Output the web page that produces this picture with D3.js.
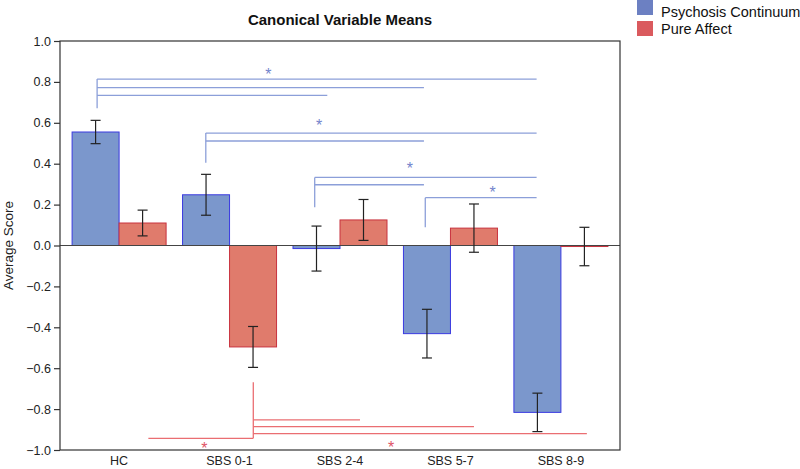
<!DOCTYPE html>
<html>
<head>
<meta charset="utf-8">
<script src="https://cdn.jsdelivr.net/npm/d3@7"></script>
<style>
  body { margin: 0; background: #fff; }
  text { font-family: "Liberation Sans", Arial, sans-serif; }
</style>
</head>
<body>
<div id="chart"></div>
<script>
// data
var categories = ["HC", "SBS 0-1", "SBS 2-4", "SBS 5-7", "SBS 8-9"];
var seriesNames = ["Psychosis Continuum", "Pure Affect"];
var psychosisMeans = [0.555, 0.248, -0.015, -0.431, -0.816];
var psychosisErrors = [0.057, 0.10, 0.11, 0.119, 0.094];
var affectMeans = [0.11, -0.496, 0.125, 0.085, -0.005];
var affectErrors = [0.063, 0.10, 0.10, 0.118, 0.094];
var yTicks = [-1.0, -0.8, -0.6, -0.4, -0.2, 0.0, 0.2, 0.4, 0.6, 0.8, 1.0];

// significance brackets, x in category-index units, y in score units
var psychosisBrackets = [
  { from: -0.199, base: 0.671, levels: [[0.814, 3.78], [0.772, 2.76], [0.734, 1.885]], star: [1.351, 0.855] },
  { from: 0.785, base: 0.405, levels: [[0.55, 3.78], [0.511, 2.76]], star: [1.81, 0.602] },
  { from: 1.771, base: 0.187, levels: [[0.333, 3.78], [0.297, 2.76]], star: [2.633, 0.392] },
  { from: 2.772, base: 0.089, levels: [[0.234, 3.78]], star: [3.382, 0.276] }
];
var affectBrackets = [
  { from: 1.215, base: -0.669, levels: [[-0.853, 2.181], [-0.886, 3.213], [-0.920, 4.235], [-0.943, 0.265]], star: [0.772, -0.974] },
  { from: 1.215, base: -0.943, levels: [], star: [2.462, -0.972] }
];

var svgWidth = 800;
var svgHeight = 469;

var margin = {
  top: 41,
  right: 180,
  bottom: 19,
  left: 60
};

var width = svgWidth - margin.left - margin.right;
var height = svgHeight - margin.top - margin.bottom;

var colors = {
  psyFill: "#7b97cc", psyStroke: "#3a3ae0", psyKey: "#6c80c2",
  affFill: "#e07b6c", affStroke: "#c8323e", affKey: "#da5a5e",
  psyBracket: "#8c9fd9", psyStar: "#7384cc",
  affBracket: "#ea6e72", affStar: "#e05466"
};

var svg = d3.select("#chart")
  .append("svg")
  .attr("width", svgWidth)
  .attr("height", svgHeight);

var chartGroup = svg.append("g")
  .attr("transform", `translate(${margin.left}, ${margin.top})`);

var x0 = d3.scaleBand()
  .domain(categories)
  .range([0, width])
  .paddingInner(0)
  .paddingOuter(0.035);

var x1 = d3.scaleBand()
  .domain(seriesNames)
  .range([0, x0.bandwidth()])
  .paddingInner(0)
  .paddingOuter(0.175);

var yScale = d3.scaleLinear()
  .domain([-1, 1])
  .range([height, 0]);

// continuous position along categories (for bracket annotations)
var xPos = d3.scaleLinear()
  .domain([0, categories.length - 1])
  .range([x0(categories[0]) + x0.bandwidth() / 2, x0(categories[categories.length - 1]) + x0.bandwidth() / 2]);

var rows = categories.map(function(c, i) {
  return [
    { cat: c, series: seriesNames[0], mean: psychosisMeans[i], err: psychosisErrors[i], fill: colors.psyFill, stroke: colors.psyStroke },
    { cat: c, series: seriesNames[1], mean: affectMeans[i], err: affectErrors[i], fill: colors.affFill, stroke: colors.affStroke }
  ];
});
var bars = d3.merge(rows);

// bars
chartGroup.selectAll("rect.bar")
  .data(bars)
  .enter().append("rect")
  .attr("class", "bar")
  .attr("x", d => x0(d.cat) + x1(d.series))
  .attr("y", d => yScale(Math.max(0, d.mean)))
  .attr("width", x1.bandwidth())
  .attr("height", d => Math.max(0.5, Math.abs(yScale(d.mean) - yScale(0))))
  .attr("fill", d => d.fill)
  .attr("stroke", d => d.stroke)
  .attr("stroke-width", 1);

// zero line
chartGroup.append("line")
  .attr("x1", 0)
  .attr("x2", width)
  .attr("y1", yScale(0))
  .attr("y2", yScale(0))
  .attr("stroke", "#444")
  .attr("stroke-width", 1.2);

// error bars
var errG = chartGroup.selectAll("g.err")
  .data(bars)
  .enter().append("g")
  .attr("class", "err")
  .attr("stroke", "#222")
  .attr("stroke-width", 1.2);

errG.append("line")
  .attr("x1", d => x0(d.cat) + x1(d.series) + x1.bandwidth() / 2)
  .attr("x2", d => x0(d.cat) + x1(d.series) + x1.bandwidth() / 2)
  .attr("y1", d => yScale(d.mean + d.err))
  .attr("y2", d => yScale(d.mean - d.err));

[1, -1].forEach(function(sign) {
  errG.append("line")
    .attr("x1", d => x0(d.cat) + x1(d.series) + x1.bandwidth() / 2 - 5)
    .attr("x2", d => x0(d.cat) + x1(d.series) + x1.bandwidth() / 2 + 5)
    .attr("y1", d => yScale(d.mean + sign * d.err))
    .attr("y2", d => yScale(d.mean + sign * d.err));
});

// brackets
function drawBrackets(list, lineColor, starColor) {
  list.forEach(function(b) {
    var ys = b.levels.map(l => l[0]).concat([b.base]);
    var ext = b.base > 0 ? d3.max(ys) : d3.min(ys);
    if (b.levels.length) {
      chartGroup.append("line")
        .attr("x1", xPos(b.from)).attr("x2", xPos(b.from))
        .attr("y1", yScale(b.base)).attr("y2", yScale(ext))
        .attr("stroke", lineColor).attr("stroke-width", 1.3);
    }
    b.levels.forEach(function(l) {
      chartGroup.append("line")
        .attr("x1", xPos(b.from)).attr("x2", xPos(l[1]))
        .attr("y1", yScale(l[0])).attr("y2", yScale(l[0]))
        .attr("stroke", lineColor).attr("stroke-width", 1.3);
    });
    chartGroup.append("text")
      .attr("x", xPos(b.star[0]))
      .attr("y", yScale(b.star[1]) + 9)
      .attr("text-anchor", "middle")
      .attr("font-size", "16px")
      .attr("fill", starColor)
      .text("*");
  });
}
drawBrackets(psychosisBrackets, colors.psyBracket, colors.psyStar);
drawBrackets(affectBrackets, colors.affBracket, colors.affStar);

// frame
chartGroup.append("rect")
  .attr("x", 0)
  .attr("y", 0)
  .attr("width", width)
  .attr("height", height)
  .attr("fill", "none")
  .attr("stroke", "#333")
  .attr("stroke-width", 1.2);

// axes
var leftAxis = d3.axisLeft(yScale)
  .tickValues(yTicks)
  .tickFormat(d3.format(".1f"))
  .tickSize(6)
  .tickPadding(3);

var yAxisG = chartGroup.append("g").call(leftAxis);
yAxisG.select(".domain").remove();
yAxisG.selectAll("line").attr("stroke", "#333").attr("stroke-width", 1.2);
yAxisG.selectAll("text")
  .attr("font-size", "12.5px")
  .attr("font-family", "\"Liberation Sans\", Arial, sans-serif")
  .attr("fill", "#222");

var bottomAxis = d3.axisBottom(x0)
  .tickSize(0)
  .tickPadding(6);

var xAxisG = chartGroup.append("g")
  .attr("transform", `translate(0, ${height})`)
  .call(bottomAxis);
xAxisG.select(".domain").remove();
xAxisG.selectAll("text")
  .attr("font-size", "12.5px")
  .attr("font-family", "\"Liberation Sans\", Arial, sans-serif")
  .attr("fill", "#222");

// title and axis label
svg.append("text")
  .attr("x", margin.left + width / 2)
  .attr("y", 25)
  .attr("text-anchor", "middle")
  .attr("font-size", "15px")
  .attr("font-weight", "bold")
  .attr("fill", "#111")
  .text("Canonical Variable Means");

svg.append("text")
  .attr("transform", `translate(13, ${margin.top + yScale(0)})rotate(-90)`)
  .attr("text-anchor", "middle")
  .attr("font-size", "13.5px")
  .attr("fill", "#222")
  .text("Average Score");

// legend
var legend = svg.append("g")
  .attr("transform", "translate(637, 0)");

var keyColors = [colors.psyKey, colors.affKey];
seriesNames.forEach(function(name, i) {
  legend.append("rect")
    .attr("x", 0)
    .attr("y", i * 21)
    .attr("width", 16)
    .attr("height", 15)
    .attr("fill", keyColors[i]);
  legend.append("text")
    .attr("x", 24)
    .attr("y", 16.5 + i * 17.5)
    .attr("font-size", "14.5px")
    .attr("fill", "#111")
    .text(name);
});
</script>
</body>
</html>
